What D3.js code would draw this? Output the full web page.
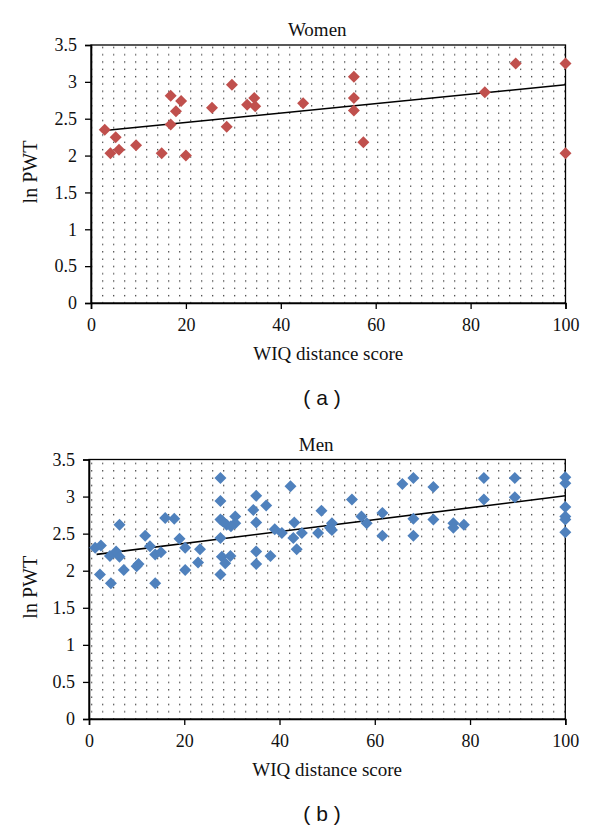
<!DOCTYPE html>
<html>
<head>
<meta charset="utf-8">
<script src="https://cdn.jsdelivr.net/npm/d3@7"></script>
<style>
  html, body { margin: 0; padding: 0; background: #fff; }
  svg { display: block; }
</style>
</head>
<body>
<svg id="chart" width="600" height="832"></svg>
<script>
// ---------- DATA ----------
const womenX = [2.9, 5.2, 4.1, 5.9, 9.5, 14.9, 16.8, 16.8, 17.9, 19.0, 20.0, 25.5, 28.6, 29.7, 32.9, 34.4, 34.6, 44.7, 55.4, 55.4, 55.4, 57.4, 83.0, 89.5, 100, 100];
const womenY = [2.35, 2.25, 2.03, 2.08, 2.14, 2.03, 2.81, 2.42, 2.60, 2.74, 2.00, 2.65, 2.39, 2.96, 2.69, 2.78, 2.67, 2.71, 3.07, 2.78, 2.61, 2.18, 2.86, 3.25, 3.25, 2.03];
const womenTrendX = [2.9, 100];
const womenTrendY = [2.34, 2.96];

const menX = [1.3, 2.5, 2.3, 4.6, 4.4, 5.7, 6.4, 6.4, 7.3, 10.0, 10.4, 11.8, 12.8, 13.9, 13.9, 15.1, 16.0, 17.9, 19.0, 20.2, 20.2, 22.9, 23.3,
  27.6, 27.6, 27.6, 27.6, 27.6, 27.9, 28.6, 28.9, 29.7, 30.7, 30.7, 28.0, 29.8,
  35.1, 34.5, 35.1, 35.1, 35.1, 37.2, 38.1, 39.0, 40.5, 42.3, 43.1, 42.9, 43.6, 44.7, 48.1, 48.8, 50.6,
  51.0, 51.0, 55.2, 57.2, 58.3, 61.6, 61.6, 65.8, 68.1, 68.1, 68.1, 72.3, 72.3, 76.5, 76.5, 78.7, 82.9, 82.9, 89.4, 89.4,
  100, 100, 100, 100, 100, 100];
const menY = [2.31, 2.34, 1.95, 1.83, 2.20, 2.26, 2.62, 2.19, 2.01, 2.06, 2.09, 2.47, 2.33, 1.83, 2.22, 2.25, 2.71, 2.70, 2.43, 2.31, 2.01, 2.11, 2.29,
  3.25, 2.94, 2.69, 2.44, 1.95, 2.19, 2.10, 2.62, 2.20, 2.73, 2.64, 2.67, 2.60,
  3.01, 2.82, 2.65, 2.26, 2.09, 2.88, 2.20, 2.56, 2.51, 3.14, 2.65, 2.44, 2.29, 2.51, 2.51, 2.81, 2.58,
  2.64, 2.55, 2.96, 2.73, 2.64, 2.78, 2.47, 3.17, 3.25, 2.70, 2.47, 3.13, 2.69, 2.64, 2.58, 2.62, 3.25, 2.96, 3.25, 2.99,
  3.26, 3.18, 2.86, 2.73, 2.69, 2.52];
const menTrendX = [1.6, 100];
const menTrendY = [2.22, 3.01];

const xTicks = [0, 20, 40, 60, 80, 100];
const xTickLabels = ["0", "20", "40", "60", "80", "100"];
const yTicks = [0, 0.5, 1, 1.5, 2, 2.5, 3, 3.5];
const yTickLabels = ["0", "0.5", "1", "1.5", "2", "2.5", "3", "3.5"];

const panels = [
  { title: "Women", tag: "( a )", xs: womenX, ys: womenY, tx: womenTrendX, ty: womenTrendY, color: "#C0504D",
    left: 91, right: 565.5, top: 45, bottom: 303 },
  { title: "Men", tag: "( b )", xs: menX, ys: menY, tx: menTrendX, ty: menTrendY, color: "#4F81BD",
    left: 89, right: 565.3, top: 459.5, bottom: 719 }
];

// ---------- DRAW ----------
const svg = d3.select("#chart");
const serif = "'Liberation Serif', 'Times New Roman', serif";

const defs = svg.append("defs");
const pat = defs.append("pattern")
  .attr("id", "dots").attr("patternUnits", "userSpaceOnUse")
  .attr("width", 11).attr("height", 14.6);
pat.append("rect").attr("x", 3).attr("y", 3).attr("width", 1.3).attr("height", 1.3).attr("fill", "#3a3a3a");
pat.append("rect").attr("x", 3).attr("y", 10.3).attr("width", 1.3).attr("height", 1.3).attr("fill", "#4a4a4a");

panels.forEach((p, i) => {
  const x = d3.scaleLinear().domain([0, 100]).range([p.left, p.right]);
  const y = d3.scaleLinear().domain([0, 3.5]).range([p.bottom, p.top]);
  const g = svg.append("g").attr("class", "panel" + i);

  g.append("rect")
    .attr("x", p.left).attr("y", p.top)
    .attr("width", p.right - p.left).attr("height", p.bottom - p.top)
    .attr("fill", "url(#dots)")
    .attr("stroke", "#000").attr("stroke-width", 1.3);

  const yAxis = d3.axisLeft(y).tickValues(yTicks)
    .tickFormat((d, k) => yTickLabels[k]).tickSize(6).tickPadding(8);
  const xAxis = d3.axisBottom(x).tickValues(xTicks)
    .tickFormat((d, k) => xTickLabels[k]).tickSize(6).tickPadding(9);

  const ya = g.append("g").attr("transform", `translate(${p.left},0)`).call(yAxis);
  const xa = g.append("g").attr("transform", `translate(0,${p.bottom})`).call(xAxis);
  [ya, xa].forEach(a => {
    a.attr("font-family", serif);
    a.select(".domain").attr("stroke", "#000").attr("stroke-width", 1.6);
    a.selectAll(".tick line").attr("stroke", "#000").attr("stroke-width", 1.3);
    a.selectAll(".tick text").attr("fill", "#111")
      .style("font-family", serif).style("font-size", "18px");
  });

  // trend line
  const line = d3.line().x((d, k) => x(p.tx[k])).y((d, k) => y(p.ty[k]));
  g.append("path").datum(p.tx).attr("d", line)
    .attr("fill", "none").attr("stroke", "#000").attr("stroke-width", 1.6);

  // diamonds
  const sym = d3.symbol().type(d3.symbolSquare).size(72);
  g.selectAll("path.pt").data(p.xs).enter().append("path").attr("class", "pt")
    .attr("d", sym)
    .attr("transform", (d, k) => `translate(${x(d)},${y(p.ys[k])}) rotate(45)`)
    .attr("fill", p.color);

  // title
  g.append("text").attr("x", (p.left + p.right) / 2 - 11).attr("y", p.top - 9)
    .attr("text-anchor", "middle").style("font-family", serif).style("font-size", "19px")
    .attr("fill", "#111").text(p.title);

  // x label
  g.append("text").attr("x", (p.left + p.right) / 2).attr("y", p.bottom + 57)
    .attr("text-anchor", "middle").style("font-family", serif).style("font-size", "19px")
    .attr("fill", "#111").text("WIQ distance score");

  // y label
  const cy = (p.top + p.bottom) / 2 - 2;
  g.append("text").attr("transform", `translate(37,${cy}) rotate(-90)`)
    .attr("text-anchor", "middle").style("font-family", serif).style("font-size", "20px")
    .attr("fill", "#111").text("ln PWT");

  // panel tag
  g.append("text").attr("x", 322).attr("y", p.bottom + 102)
    .attr("text-anchor", "middle").style("font-family", "'Liberation Sans', Arial, sans-serif")
    .style("font-size", "21px").attr("fill", "#111").attr("xml:space", "preserve").text(p.tag);
});
</script>
</body>
</html>
